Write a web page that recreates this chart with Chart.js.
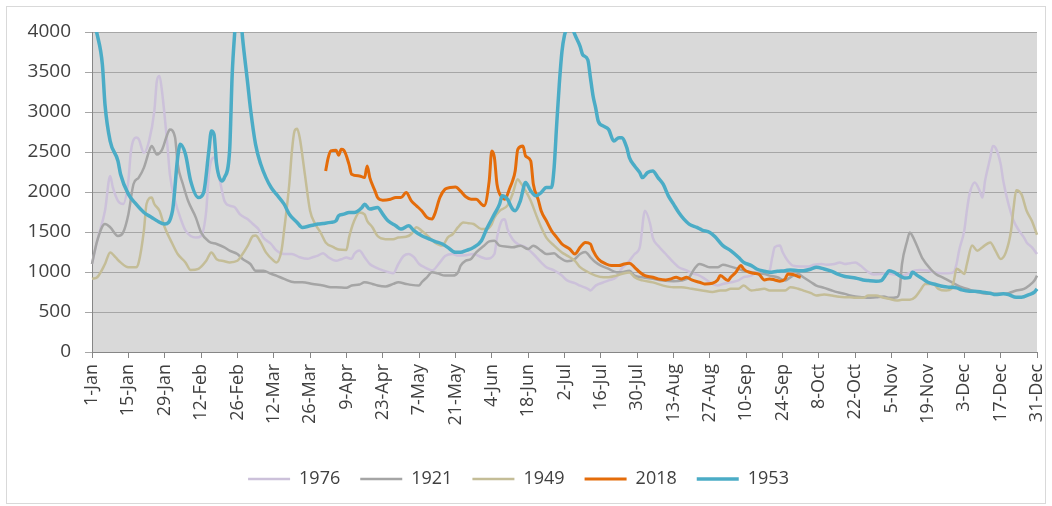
<!DOCTYPE html>
<html>
<head>
<meta charset="utf-8">
<script src="https://cdn.jsdelivr.net/npm/chart.js@4"></script>
<style>
  html, body { margin: 0; padding: 0; background: #fff; }
  #wrap { position: absolute; left: 0; top: 0; width: 1052px; height: 506px; }
  #frame { position: absolute; left: 6px; top: 6px; width: 1038px; height: 496px; border: 1px solid #d9d9d9; pointer-events: none; }
</style>
</head>
<body>
<div id="wrap"><canvas id="myChart"></canvas></div>
<div id="frame"></div>
<script>
// x tick labels, one every 14 days (day 0 = 1-Jan)
var tickLabels = ['1-Jan','15-Jan','29-Jan','12-Feb','26-Feb','12-Mar','26-Mar','9-Apr','23-Apr','7-May','21-May','4-Jun','18-Jun','2-Jul',
  '16-Jul','30-Jul','13-Aug','27-Aug','10-Sep','24-Sep','8-Oct','22-Oct','5-Nov','19-Nov','3-Dec','17-Dec','31-Dec'];

// [day of year, value]
var s1976 = [[0,1100],[2,1390],[5,1765],[7,2200],[8,2060],[10,1890],[12,1850],[14,2140],[15,2510],[17,2680],[18,2660],[20,2490],[22,2640],[24,3010],[25,3390],[26,3450],[27,3250],[29,2600],[30,2220],[32,1890],[34,1680],[36,1520],[40,1430],[42,1450],[44,1765],[45,2220],[47,2430],[49,2180],[51,1890],[53,1830],[55,1810],[57,1720],[60,1660],[62,1600],[64,1540],[66,1430],[69,1350],[71,1270],[74,1225],[77,1225],[80,1185],[83,1165],[85,1185],[87,1205],[89,1235],[91,1185],[94,1140],[96,1160],[98,1180],[100,1165],[101,1225],[103,1270],[105,1185],[107,1100],[109,1060],[112,1020],[114,1000],[116,985],[118,1100],[120,1200],[122,1225],[124,1185],[126,1100],[128,1060],[131,1020],[134,1120],[136,1200],[139,1225],[141,1205],[144,1210],[147,1225],[150,1185],[152,1165],[155,1225],[156,1430],[158,1650],[159,1660],[160,1540],[162,1410],[164,1350],[167,1310],[170,1225],[173,1120],[175,1060],[178,1020],[181,955],[183,895],[186,860],[188,830],[191,790],[192,770],[194,830],[197,870],[199,895],[202,935],[204,1040],[207,1140],[209,1225],[211,1310],[213,1765],[215,1600],[216,1430],[218,1330],[221,1225],[224,1120],[226,1060],[229,1020],[231,985],[234,955],[236,915],[239,850],[241,830],[243,850],[246,870],[249,895],[251,935],[254,955],[256,1000],[259,1000],[261,1020],[262,1180],[263,1310],[265,1330],[266,1250],[268,1140],[270,1080],[273,1070],[276,1070],[278,1090],[281,1100],[283,1090],[286,1100],[288,1120],[290,1100],[292,1110],[294,1120],[296,1080],[299,1000],[301,970],[304,975],[306,985],[309,970],[312,955],[314,975],[317,1020],[319,1025],[322,1020],[324,1000],[327,985],[330,985],[332,1000],[333,1100],[334,1270],[336,1520],[337,1770],[338,1970],[340,2120],[342,2010],[343,1930],[344,2140],[346,2430],[347,2575],[348,2555],[350,2350],[351,2140],[353,1850],[355,1640],[357,1520],[359,1430],[360,1370],[362,1310],[364,1225]];

var s1921 = [[0,1100],[2,1390],[5,1600],[7,1560],[10,1450],[12,1495],[14,1720],[16,2100],[18,2180],[20,2305],[22,2510],[23,2575],[25,2470],[27,2530],[29,2720],[30,2780],[32,2680],[33,2350],[35,2100],[37,1890],[40,1680],[42,1495],[45,1380],[48,1350],[51,1308],[53,1267],[56,1225],[58,1163],[61,1100],[63,1017],[66,1017],[69,976],[71,955],[74,914],[78,872],[81,872],[85,851],[89,831],[92,810],[94,810],[98,802],[100,831],[103,843],[105,872],[108,851],[110,831],[113,818],[116,851],[118,872],[121,851],[123,839],[126,831],[127,872],[129,934],[131,997],[133,984],[136,955],[139,955],[141,997],[142,1080],[144,1142],[146,1163],[148,1246],[151,1329],[153,1383],[155,1391],[157,1329],[160,1317],[162,1308],[165,1329],[168,1287],[170,1329],[173,1267],[175,1225],[178,1233],[180,1184],[183,1134],[186,1163],[188,1225],[190,1250],[192,1184],[194,1121],[196,1080],[199,1038],[202,997],[204,997],[207,1017],[209,955],[212,934],[216,914],[220,893],[224,885],[227,893],[230,934],[232,1038],[234,1100],[236,1080],[238,1059],[241,1059],[243,1092],[246,1067],[249,1038],[251,1017],[254,997],[256,984],[259,976],[261,955],[264,934],[267,893],[269,934],[272,976],[274,934],[277,872],[279,831],[282,802],[285,768],[287,748],[290,727],[292,706],[294,694],[297,685],[299,677],[302,685],[305,694],[307,677],[310,685],[311,748],[312,1100],[314,1391],[315,1495],[316,1453],[318,1308],[320,1163],[323,1038],[325,976],[328,926],[330,893],[333,840],[335,810],[338,780],[341,748],[343,735],[346,727],[348,727],[351,727],[353,735],[356,768],[359,789],[361,831],[363,893],[364,955]];

var s1949 = [[0,915],[2,935],[5,1100],[7,1245],[9,1185],[11,1120],[14,1060],[17,1060],[18,1120],[20,1520],[21,1850],[23,1930],[24,1850],[26,1765],[28,1560],[31,1350],[33,1225],[36,1120],[38,1025],[41,1040],[44,1140],[46,1245],[48,1160],[51,1135],[53,1120],[56,1140],[58,1225],[60,1330],[62,1450],[63,1455],[65,1370],[67,1245],[70,1140],[71,1120],[73,1270],[74,1520],[76,2100],[77,2510],[78,2760],[79,2790],[80,2680],[82,2220],[84,1765],[86,1600],[88,1495],[90,1370],[93,1310],[95,1280],[98,1275],[99,1430],[101,1640],[103,1745],[105,1720],[106,1640],[108,1560],[110,1450],[113,1410],[116,1410],[118,1430],[121,1440],[123,1475],[125,1560],[127,1515],[130,1430],[132,1370],[135,1330],[137,1430],[139,1475],[141,1560],[143,1620],[145,1610],[147,1600],[150,1537],[152,1537],[154,1600],[155,1680],[157,1765],[160,1830],[162,1975],[164,2160],[165,2120],[167,2015],[169,1890],[171,1720],[173,1560],[175,1430],[178,1330],[181,1245],[183,1205],[186,1140],[188,1060],[191,1000],[194,955],[197,935],[199,935],[202,955],[204,975],[207,995],[209,935],[212,895],[216,870],[220,830],[224,810],[227,810],[231,790],[235,770],[239,750],[242,768],[244,768],[246,790],[249,790],[251,830],[254,768],[256,777],[259,790],[261,768],[264,768],[267,768],[269,810],[272,790],[274,768],[277,735],[279,706],[282,718],[285,706],[287,694],[290,685],[292,685],[294,677],[297,677],[299,706],[302,706],[305,677],[307,664],[310,644],[312,652],[315,652],[317,685],[319,768],[321,851],[324,851],[326,790],[329,768],[331,790],[332,893],[333,1040],[335,1000],[336,976],[337,1100],[339,1330],[341,1267],[343,1310],[346,1370],[348,1267],[350,1163],[352,1246],[354,1516],[355,1807],[356,2023],[358,1973],[360,1765],[362,1640],[364,1466]];

var s2018 = [[90,2263],[91,2430],[92,2513],[94,2521],[95,2460],[96,2533],[97,2521],[99,2346],[100,2222],[103,2201],[105,2180],[106,2326],[107,2180],[109,2014],[110,1931],[112,1898],[115,1910],[117,1931],[119,1931],[121,1993],[123,1890],[125,1827],[127,1765],[129,1682],[131,1661],[132,1723],[134,1931],[136,2035],[138,2056],[140,2064],[142,2010],[144,1940],[146,1910],[148,1910],[150,1848],[151,1827],[153,2139],[154,2513],[155,2430],[156,2097],[158,1931],[159,1910],[161,2056],[162,2139],[163,2263],[164,2533],[166,2575],[167,2450],[169,2388],[170,2097],[172,1890],[173,1765],[175,1640],[177,1516],[179,1433],[181,1350],[184,1287],[186,1225],[188,1308],[190,1370],[192,1350],[193,1267],[195,1163],[198,1100],[200,1080],[203,1080],[205,1100],[207,1109],[209,1059],[211,997],[213,955],[216,934],[218,914],[221,901],[223,914],[225,934],[227,914],[229,934],[231,901],[234,872],[236,851],[239,860],[241,901],[242,955],[245,893],[246,934],[248,997],[250,1080],[251,1038],[253,997],[255,984],[257,968],[259,901],[261,914],[263,901],[265,885],[267,914],[268,976],[270,968],[272,943],[273,934]];

var s1953 = [[0,4200],[2,3966],[4,3592],[5,3094],[7,2637],[10,2388],[11,2222],[14,1973],[17,1848],[20,1744],[23,1682],[25,1640],[28,1599],[31,1765],[33,2430],[34,2596],[36,2471],[38,2139],[41,1931],[43,1993],[45,2513],[46,2762],[47,2720],[48,2346],[50,2139],[51,2180],[53,2513],[54,3468],[55,4007],[56,4400],[57,4300],[58,3925],[60,3350],[61,3052],[63,2596],[65,2346],[67,2180],[69,2056],[71,1973],[74,1848],[76,1723],[79,1620],[81,1557],[84,1578],[87,1599],[89,1607],[92,1620],[94,1640],[95,1703],[97,1723],[99,1744],[101,1744],[104,1807],[105,1848],[107,1786],[110,1807],[112,1723],[114,1640],[117,1578],[119,1537],[122,1578],[124,1516],[127,1453],[130,1412],[132,1383],[135,1350],[137,1308],[140,1246],[142,1246],[144,1267],[147,1308],[150,1391],[152,1537],[155,1723],[157,1848],[158,1952],[160,1910],[162,1786],[163,1765],[165,1890],[167,2118],[169,2014],[171,1952],[173,1993],[175,2056],[177,2056],[178,2305],[179,2850],[180,3350],[181,3750],[182,3960],[183,4050],[184,4150],[185,4060],[186,3966],[188,3821],[189,3717],[191,3650],[192,3426],[193,3200],[194,3052],[195,2886],[197,2824],[199,2782],[201,2637],[203,2679],[204,2679],[206,2554],[207,2430],[209,2326],[211,2243],[212,2180],[214,2243],[216,2263],[218,2180],[220,2097],[222,1952],[224,1848],[226,1744],[228,1661],[230,1599],[233,1557],[235,1524],[238,1495],[240,1440],[243,1329],[246,1267],[249,1184],[251,1121],[254,1080],[256,1038],[259,1009],[261,997],[264,1009],[267,1017],[269,1026],[272,1017],[274,1017],[277,1038],[279,1059],[282,1038],[285,1009],[287,976],[290,943],[292,934],[294,926],[297,901],[299,893],[302,885],[304,893],[306,976],[307,1017],[309,997],[311,955],[313,926],[315,934],[316,997],[318,955],[320,914],[322,872],[325,843],[328,818],[330,810],[333,802],[335,777],[338,760],[340,760],[343,748],[346,735],[348,718],[351,727],[353,718],[356,685],[358,685],[361,718],[363,748],[364,789]];

function pts(arr) { return arr.map(function (p) { return {x: p[0], y: p[1]}; }); }

// grey plot area like the spreadsheet
var plotBg = {
  id: 'plotBg',
  beforeDraw: function (chart) {
    var a = chart.chartArea, ctx = chart.ctx;
    ctx.save();
    ctx.fillStyle = '#d9d9d9';
    ctx.fillRect(a.left, a.top, a.right - a.left, a.bottom - a.top);
    ctx.restore();
  }
};

function line(label, data, color, width, order) {
  return {
    label: label,
    data: pts(data),
    borderColor: color,
    backgroundColor: color,
    borderWidth: width,
    pointRadius: 0,
    cubicInterpolationMode: 'monotone',
    fill: false,
    order: order,
    clip: {left: 3, top: 0, right: 3, bottom: 3}
  };
}

Chart.defaults.font.family = "'Open Sans', sans-serif";
Chart.defaults.color = '#404040';

var ctx = document.getElementById('myChart');
var myChart = new Chart(ctx, {
  type: 'line',
  data: {
    datasets: [
      line('1976', s1976, '#ccc1da', 2.5, 5),
      line('1921', s1921, '#a5a5a5', 2.5, 4),
      line('1949', s1949, '#c4bd97', 2.5, 3),
      line('2018', s2018, '#e46c0a', 3, 2),
      line('1953', s1953, '#4bacc6', 3.5, 1)
    ]
  },
  options: {
    responsive: true,
    maintainAspectRatio: false,
    animation: false,
    layout: { padding: { top: 32, right: 15, bottom: 8, left: 0 } },
    plugins: {
      tooltip: { enabled: false },
      legend: {
        position: 'bottom',
        labels: {
          usePointStyle: true,
          pointStyle: 'line',
          pointStyleWidth: 42,
          padding: 20,
          color: '#404040',
          font: { size: 18 },
          sort: function (a, b) { return a.datasetIndex - b.datasetIndex; }
        }
      }
    },
    scales: {
      x: {
        type: 'linear',
        min: 0,
        max: 364,
        afterFit: function (s) { s.height = 98; s.paddingLeft = 0; s.paddingRight = 0; },
        border: { display: true, color: '#868686' },
        grid: { drawOnChartArea: false, drawTicks: true, tickLength: 6, color: '#868686' },
        ticks: {
          stepSize: 14,
          autoSkip: false,
          maxRotation: 90,
          minRotation: 90,
          padding: 6,
          font: { size: 18 },
          color: '#404040',
          callback: function (v) { return tickLabels[Math.round(v / 14)]; }
        }
      },
      y: {
        min: 0,
        max: 4000,
        afterFit: function (s) { s.width = 92; },
        border: { display: true, color: '#868686' },
        grid: { color: '#a6a6a6', tickLength: 7 },
        ticks: {
          stepSize: 500,
          padding: 14,
          font: { size: 19 },
          color: '#404040',
          callback: function (v) { return String(v); }
        }
      }
    }
  },
  plugins: [plotBg]
});
</script>
</body>
</html>
